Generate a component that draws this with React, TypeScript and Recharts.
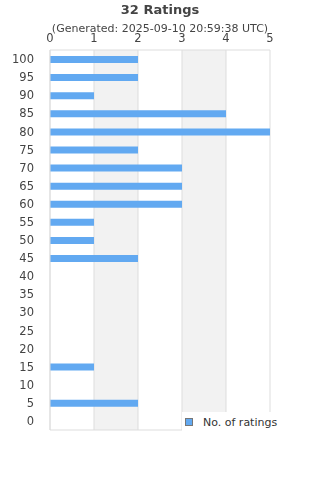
import { BarChart, Bar, XAxis, YAxis, CartesianGrid } from 'recharts';

const ratings = ['100', '95', '90', '85', '80', '75', '70', '65', '60', '55', '50', '45', '40', '35', '30', '25', '20', '15', '10', '5', '0'];
const counts = [2, 2, 1, 4, 5, 2, 3, 3, 3, 1, 1, 2, 0, 0, 0, 0, 0, 1, 0, 2, 0];
const countTicks = [0, 1, 2, 3, 4, 5];

const title = '32 Ratings';
const subtitle = '(Generated: 2025-09-10 20:59:38 UTC)';
const seriesName = 'No. of ratings';

const FONT = '"DejaVu Sans", sans-serif';
const BAR = '#62a9f1';

// legend sits on a white box over the lower right of the plot
function LegendBox() {
  return (
    <div style={{ position: 'absolute', left: 182, top: 412, height: 20, background: '#fff', display: 'flex', alignItems: 'center', padding: '0 12px 0 3px', fontSize: 11, color: '#333' }}>
      <span style={{ width: 6, height: 6, background: BAR, border: '1px solid #777', marginRight: 10 }} />
      {seriesName}
    </div>
  );
}

export default function App() {
  const data = ratings.map((r, i) => ({ rating: r, count: counts[i] }));

  return (
    <div style={{ position: 'fixed', top: 0, left: 0, width: 320, height: 480, fontFamily: FONT }}>
      <div style={{ position: 'absolute', top: 2, width: 320, textAlign: 'center', fontWeight: 'bold', fontSize: 13, color: '#444' }}>
        {title}
      </div>
      <div style={{ position: 'absolute', top: 22, width: 320, textAlign: 'center', fontSize: 11, color: '#444' }}>
        {subtitle}
      </div>
      <BarChart
        width={320}
        height={480}
        data={data}
        layout="vertical"
        margin={{ top: 30, right: 50, bottom: 49, left: 0 }}
      >
        <CartesianGrid
          horizontal={false}
          stroke="#ddd"
          verticalFill={['#fff', '#f2f2f2']}
          fillOpacity={1}
        />
        <XAxis
          type="number"
          orientation="top"
          domain={[0, 5]}
          ticks={countTicks}
          tickLine={false}
          axisLine={{ stroke: '#ddd' }}
          tick={{ fill: '#444', fontSize: 11.5 }}
          tickMargin={2}
          height={20}
        />
        <XAxis
          xAxisId="bottom"
          type="number"
          orientation="bottom"
          domain={[0, 5]}
          tick={false}
          tickLine={false}
          axisLine={{ stroke: '#ddd' }}
          height={1}
        />
        <YAxis
          type="category"
          dataKey="rating"
          width={50}
          tickLine={false}
          axisLine={{ stroke: '#ddd' }}
          tick={{ fill: '#444', fontSize: 11.5 }}
          tickMargin={10}
        />
        <Bar dataKey="count" name={seriesName} fill={BAR} barSize={7} isAnimationActive={false} />
      </BarChart>
      <LegendBox />
    </div>
  );
}
